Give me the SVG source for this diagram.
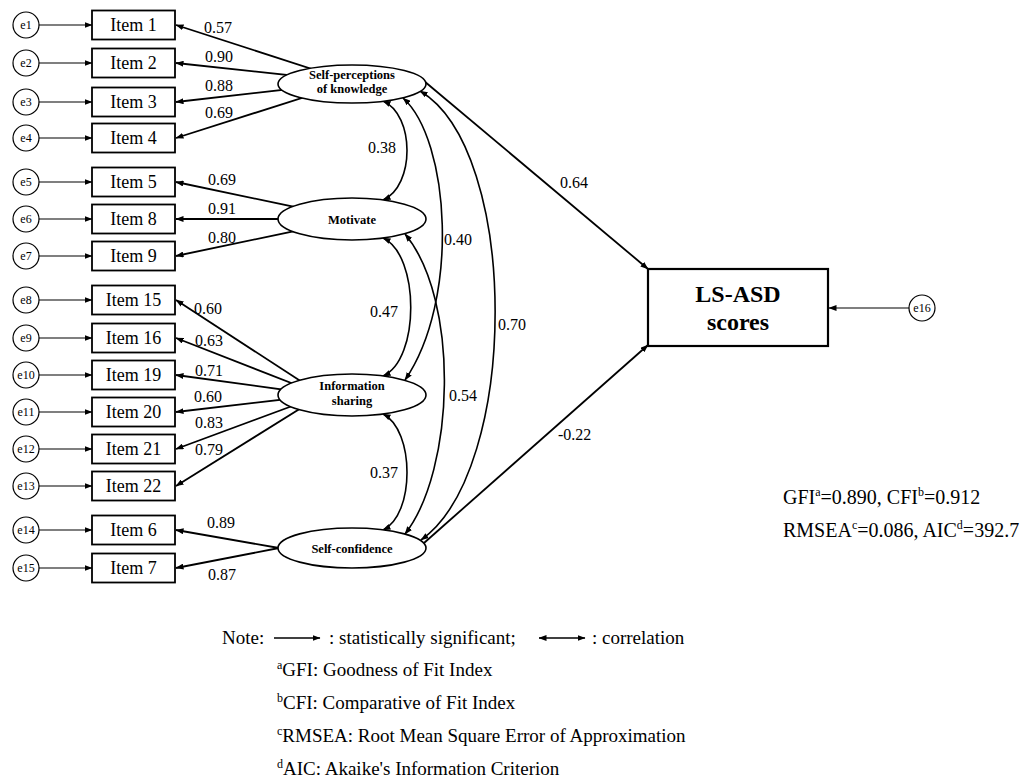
<svg xmlns="http://www.w3.org/2000/svg" width="1021" height="778" viewBox="0 0 1021 778">
<style>
text{font-family:"Liberation Serif","Times New Roman",serif;fill:#000}
.err{fill:#fff;stroke:#000;stroke-width:1.2}
.et{font-size:12px;text-anchor:middle}
.item{fill:#fff;stroke:#000;stroke-width:1.8}
.it{font-size:18px;text-anchor:middle}
.lat{fill:#fff;stroke:#000;stroke-width:1.6}
.lt{font-size:12.5px;font-weight:bold;text-anchor:middle}
.ea{stroke:#000;stroke-width:1.2;fill:none;marker-end:url(#ah)}
.ld{stroke:#000;stroke-width:1.8;fill:none;marker-end:url(#ah)}
.cr{stroke:#000;stroke-width:1.6;fill:none;marker-end:url(#ah);marker-start:url(#ah)}
.lb{font-size:16px}
.leg{font-size:19px}
.sup{font-size:12px}
</style>
<defs>
<marker id="ah" markerUnits="userSpaceOnUse" markerWidth="8" markerHeight="6" refX="7.5" refY="3" orient="auto-start-reverse">
<path d="M0,0 L8,3 L0,6 z" fill="#000"/>
</marker>
</defs>
<rect width="1021" height="778" fill="#fff"/>

<g id="connectors">
<line class="ea" x1="39" y1="25" x2="92" y2="25"/>
<line class="ea" x1="39" y1="63" x2="92" y2="63"/>
<line class="ea" x1="39" y1="102" x2="92" y2="102"/>
<line class="ea" x1="39" y1="138" x2="92" y2="138"/>
<line class="ea" x1="39" y1="182" x2="92" y2="182"/>
<line class="ea" x1="39" y1="219" x2="92" y2="219"/>
<line class="ea" x1="39" y1="256" x2="92" y2="256"/>
<line class="ea" x1="39" y1="300" x2="92" y2="300"/>
<line class="ea" x1="39" y1="338" x2="92" y2="338"/>
<line class="ea" x1="39" y1="375" x2="92" y2="375"/>
<line class="ea" x1="39" y1="412" x2="92" y2="412"/>
<line class="ea" x1="39" y1="449" x2="92" y2="449"/>
<line class="ea" x1="39" y1="486" x2="92" y2="486"/>
<line class="ea" x1="39" y1="530" x2="92" y2="530"/>
<line class="ea" x1="39" y1="568" x2="92" y2="568"/>
<line class="ea" x1="909" y1="308" x2="829" y2="308"/>
<line class="ld" x1="352" y1="82" x2="176" y2="25"/>
<line class="ld" x1="352" y1="82" x2="176" y2="63"/>
<line class="ld" x1="352" y1="82" x2="176" y2="102"/>
<line class="ld" x1="352" y1="82" x2="176" y2="138"/>
<line class="ld" x1="352" y1="219" x2="176" y2="182"/>
<line class="ld" x1="352" y1="219" x2="176" y2="219"/>
<line class="ld" x1="352" y1="219" x2="176" y2="256"/>
<line class="ld" x1="322" y1="395" x2="176" y2="300"/>
<line class="ld" x1="322" y1="395" x2="176" y2="338"/>
<line class="ld" x1="322" y1="395" x2="176" y2="375"/>
<line class="ld" x1="322" y1="395" x2="176" y2="412"/>
<line class="ld" x1="322" y1="395" x2="176" y2="449"/>
<line class="ld" x1="322" y1="395" x2="176" y2="486"/>
<line class="ld" x1="279" y1="548" x2="176" y2="530"/>
<line class="ld" x1="279" y1="548" x2="176" y2="568"/>
<line class="ld" x1="424" y1="81" x2="648" y2="269"/>
<line class="ld" x1="424" y1="543" x2="648" y2="345"/>
<path class="cr" d="M383,101 C415,115 415,186 383,200"/>
<path class="cr" d="M403,98 C450,140 460,300 405,380"/>
<path class="cr" d="M420,91 C520,150 520,470 421,540"/>
<path class="cr" d="M383,238 C420,255 420,360 383,376"/>
<path class="cr" d="M405,234 C460,300 455,470 405,534"/>
<path class="cr" d="M383,414 C415,430 415,515 383,530"/>
</g>

<g id="labels">
<text class="lb" x="204" y="33">0.57</text>
<text class="lb" x="205" y="62">0.90</text>
<text class="lb" x="205" y="91">0.88</text>
<text class="lb" x="205" y="118">0.69</text>
<text class="lb" x="208" y="185">0.69</text>
<text class="lb" x="208" y="214">0.91</text>
<text class="lb" x="208" y="243">0.80</text>
<text class="lb" x="194" y="314">0.60</text>
<text class="lb" x="195" y="346">0.63</text>
<text class="lb" x="195" y="376">0.71</text>
<text class="lb" x="194" y="402">0.60</text>
<text class="lb" x="195" y="428">0.83</text>
<text class="lb" x="195" y="455">0.79</text>
<text class="lb" x="207" y="528">0.89</text>
<text class="lb" x="208" y="580">0.87</text>
<text class="lb" x="368" y="153">0.38</text>
<text class="lb" x="444" y="245">0.40</text>
<text class="lb" x="370" y="317">0.47</text>
<text class="lb" x="498" y="330">0.70</text>
<text class="lb" x="449" y="401">0.54</text>
<text class="lb" x="370" y="478">0.37</text>
<text class="lb" x="560" y="188">0.64</text>
<text class="lb" x="558" y="440">-0.22</text>
</g>

<g id="e1"><circle class="err" cx="26" cy="25" r="13"/><text class="et" x="26" y="29">e1</text></g>
<g id="e2"><circle class="err" cx="26" cy="63" r="13"/><text class="et" x="26" y="67">e2</text></g>
<g id="e3"><circle class="err" cx="26" cy="102" r="13"/><text class="et" x="26" y="106">e3</text></g>
<g id="e4"><circle class="err" cx="26" cy="138" r="13"/><text class="et" x="26" y="142">e4</text></g>
<g id="e5"><circle class="err" cx="26" cy="182" r="13"/><text class="et" x="26" y="186">e5</text></g>
<g id="e6"><circle class="err" cx="26" cy="219" r="13"/><text class="et" x="26" y="223">e6</text></g>
<g id="e7"><circle class="err" cx="26" cy="256" r="13"/><text class="et" x="26" y="260">e7</text></g>
<g id="e8"><circle class="err" cx="26" cy="300" r="13"/><text class="et" x="26" y="304">e8</text></g>
<g id="e9"><circle class="err" cx="26" cy="338" r="13"/><text class="et" x="26" y="342">e9</text></g>
<g id="e10"><circle class="err" cx="26" cy="375" r="13"/><text class="et" x="26" y="379">e10</text></g>
<g id="e11"><circle class="err" cx="26" cy="412" r="13"/><text class="et" x="26" y="416">e11</text></g>
<g id="e12"><circle class="err" cx="26" cy="449" r="13"/><text class="et" x="26" y="453">e12</text></g>
<g id="e13"><circle class="err" cx="26" cy="486" r="13"/><text class="et" x="26" y="490">e13</text></g>
<g id="e14"><circle class="err" cx="26" cy="530" r="13"/><text class="et" x="26" y="534">e14</text></g>
<g id="e15"><circle class="err" cx="26" cy="568" r="13"/><text class="et" x="26" y="572">e15</text></g>
<g id="e16"><circle class="err" cx="922" cy="308" r="13"/><text class="et" x="922" y="312">e16</text></g>

<g id="item1"><rect class="item" x="92" y="10.5" width="83" height="29"/><text class="it" x="133.5" y="31">Item 1</text></g>
<g id="item2"><rect class="item" x="92" y="48.5" width="83" height="29"/><text class="it" x="133.5" y="69">Item 2</text></g>
<g id="item3"><rect class="item" x="92" y="87.5" width="83" height="29"/><text class="it" x="133.5" y="108">Item 3</text></g>
<g id="item4"><rect class="item" x="92" y="123.5" width="83" height="29"/><text class="it" x="133.5" y="144">Item 4</text></g>
<g id="item5"><rect class="item" x="92" y="167.5" width="83" height="29"/><text class="it" x="133.5" y="188">Item 5</text></g>
<g id="item8"><rect class="item" x="92" y="204.5" width="83" height="29"/><text class="it" x="133.5" y="225">Item 8</text></g>
<g id="item9"><rect class="item" x="92" y="241.5" width="83" height="29"/><text class="it" x="133.5" y="262">Item 9</text></g>
<g id="item15"><rect class="item" x="92" y="285.5" width="83" height="29"/><text class="it" x="133.5" y="306">Item 15</text></g>
<g id="item16"><rect class="item" x="92" y="323.5" width="83" height="29"/><text class="it" x="133.5" y="344">Item 16</text></g>
<g id="item19"><rect class="item" x="92" y="360.5" width="83" height="29"/><text class="it" x="133.5" y="381">Item 19</text></g>
<g id="item20"><rect class="item" x="92" y="397.5" width="83" height="29"/><text class="it" x="133.5" y="418">Item 20</text></g>
<g id="item21"><rect class="item" x="92" y="434.5" width="83" height="29"/><text class="it" x="133.5" y="455">Item 21</text></g>
<g id="item22"><rect class="item" x="92" y="471.5" width="83" height="29"/><text class="it" x="133.5" y="492">Item 22</text></g>
<g id="item6"><rect class="item" x="92" y="515.5" width="83" height="29"/><text class="it" x="133.5" y="536">Item 6</text></g>
<g id="item7"><rect class="item" x="92" y="553.5" width="83" height="29"/><text class="it" x="133.5" y="574">Item 7</text></g>

<g id="self-perceptions"><ellipse class="lat" cx="352" cy="84" rx="74" ry="19"/><text class="lt" x="352" y="79">Self-perceptions</text><text class="lt" x="352" y="93">of knowledge</text></g>
<g id="motivate"><ellipse class="lat" cx="352" cy="219" rx="74" ry="21"/><text class="lt" x="352" y="223.5">Motivate</text></g>
<g id="information-sharing"><ellipse class="lat" cx="352" cy="395" rx="74" ry="21"/><text class="lt" x="352" y="390">Information</text><text class="lt" x="352" y="405">sharing</text></g>
<g id="self-confidence"><ellipse class="lat" cx="352" cy="548" rx="74" ry="20"/><text class="lt" x="352" y="552.5">Self-confidence</text></g>

<g id="ls-asd"><rect x="648" y="269" width="180" height="77" fill="#fff" stroke="#000" stroke-width="2.2"/><text x="738" y="302" font-size="24" font-weight="bold" text-anchor="middle">LS-ASD</text><text x="738" y="330" font-size="24" font-weight="bold" text-anchor="middle">scores</text></g>

<g id="fit-indices">
<text x="783" y="504" font-size="20">GFI<tspan class="sup" dy="-8">a</tspan><tspan dy="8">=0.890, CFI</tspan><tspan class="sup" dy="-8">b</tspan><tspan dy="8">=0.912</tspan></text>
<text x="783" y="537" font-size="20">RMSEA<tspan class="sup" dy="-8">c</tspan><tspan dy="8">=0.086, AIC</tspan><tspan class="sup" dy="-8">d</tspan><tspan dy="8">=392.7</tspan></text>
</g>

<g id="legend">
<text class="leg" x="222" y="644">Note:</text>
<line x1="274" y1="638" x2="320" y2="638" stroke="#000" stroke-width="1.6" marker-end="url(#ah)"/>
<text class="leg" x="329" y="644">: statistically significant;</text>
<line x1="539" y1="638" x2="585" y2="638" stroke="#000" stroke-width="1.6" marker-end="url(#ah)" marker-start="url(#ah)"/>
<text class="leg" x="592" y="644">: correlation</text>
<text class="leg" x="277" y="676"><tspan class="sup" dy="-7">a</tspan><tspan dy="7">GFI: Goodness of Fit Index</tspan></text>
<text class="leg" x="277" y="709"><tspan class="sup" dy="-7">b</tspan><tspan dy="7">CFI: Comparative of Fit Index</tspan></text>
<text class="leg" x="277" y="742"><tspan class="sup" dy="-7">c</tspan><tspan dy="7">RMSEA: Root Mean Square Error of Approximation</tspan></text>
<text class="leg" x="277" y="775"><tspan class="sup" dy="-7">d</tspan><tspan dy="7">AIC: Akaike's Information Criterion</tspan></text>
</g>
</svg>
